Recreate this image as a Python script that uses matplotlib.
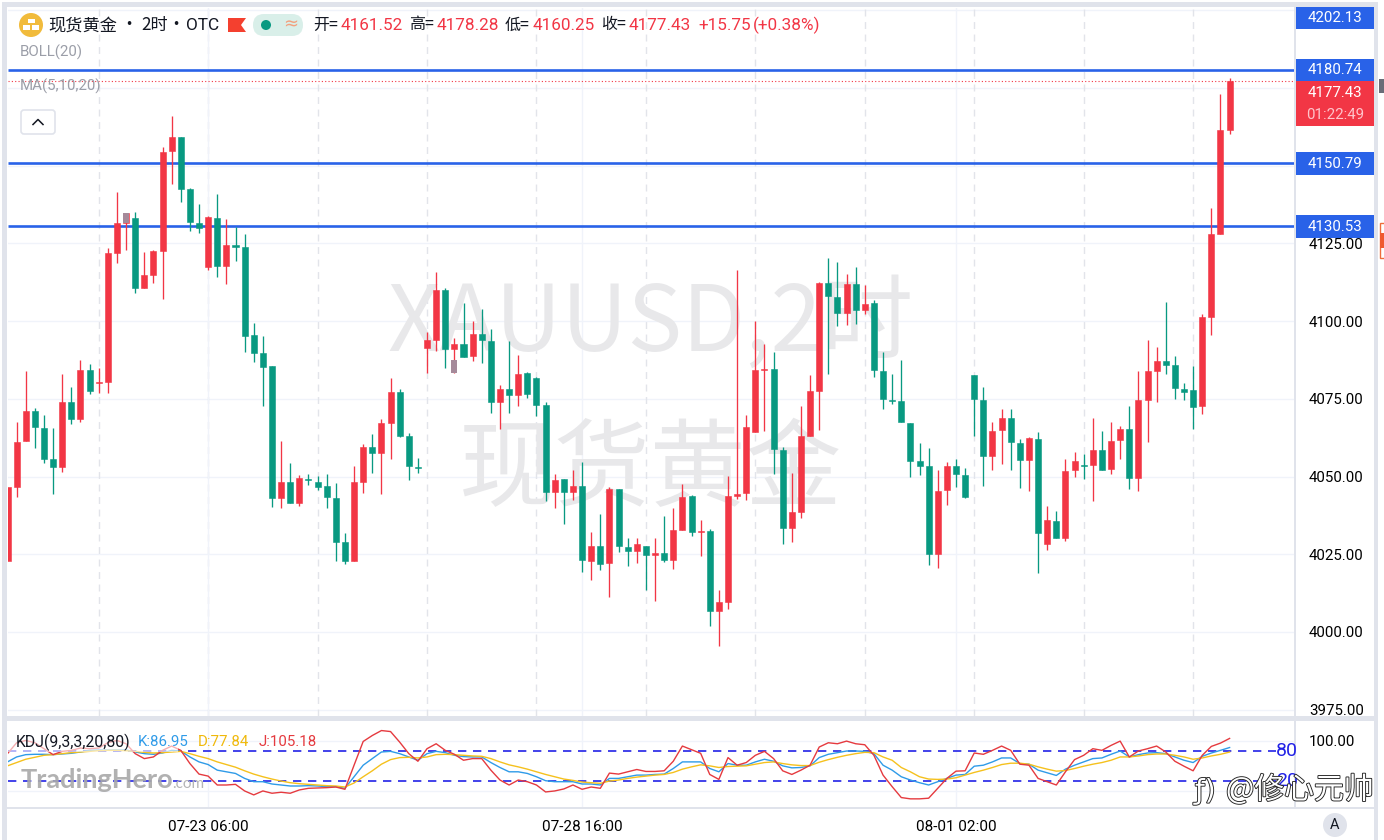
import numpy as np
import matplotlib
matplotlib.use('Agg')
import matplotlib.pyplot as plt
from matplotlib.patches import Rectangle, Circle, Polygon, FancyBboxPatch
import matplotlib.patheffects as pe

plt.rcParams['font.family'] = ['Noto Sans CJK SC', 'DejaVu Sans']

# candles
opens = [4022.9, 4046.7, 4061.6, 4071.1, 4065.7, 4055.8, 4053.0, 4073.9, 4068.6, 4084.3,
         4080.0, 4080.5, 4121.8, 4131.7, 4133.3, 4110.6, 4114.9, 4122.7, 4154.9, 4159.4,
         4142.4, 4131.6, 4117.5, 4133.3, 4117.9, 4124.5, 4124.0, 4095.6, 4089.7, 4085.6,
         4043.0, 4048.4, 4041.5, 4049.3, 4048.2, 4047.0, 4043.2, 4028.9, 4022.8, 4048.2,
         4059.5, 4057.7, 4067.3, 4077.1, 4063.2, 4053.1, 4091.5, 4094.0, 4110.0, 4091.0,
         4092.7, 4088.8, 4095.9, 4093.7, 4073.9, 4078.1, 4076.3, 4083.2, 4081.6, 4073.0,
         4044.9, 4049.1, 4045.1, 4047.0, 4022.9, 4027.7, 4022.1, 4045.9, 4027.4, 4026.2,
         4027.7, 4024.9, 4025.5, 4023.3, 4032.7, 4043.8, 4032.2, 4032.6, 4006.9, 4009.6,
         4043.9, 4044.8, 4064.3, 4084.2, 4084.5, 4058.6, 4033.5, 4038.7, 4063.2, 4077.6,
         4112.2, 4107.9, 4102.7, 4112.0, 4103.6, 4105.7, 4084.1, 4074.8, 4074.3, 4067.4,
         4054.9, 4053.4, 4025.1, 4045.6, 4053.4, 4050.5, 4082.6, 4074.7, 4056.6, 4064.9,
         4068.7, 4060.8, 4055.3, 4062.2, 4028.4, 4035.6, 4030.4, 4052.0, 4053.7, 4053.6,
         4058.6, 4052.4, 4061.8, 4065.4, 4049.6, 4074.8, 4084.1, 4087.1, 4085.8, 4078.3,
         4078.0, 4072.7, 4101.3, 4128.1, 4161.5]
highs = [4046.7, 4067.7, 4084.0, 4072.2, 4069.8, 4065.5, 4083.0, 4078.9, 4087.5, 4086.1,
         4084.8, 4123.5, 4141.5, 4134.7, 4135.2, 4122.2, 4122.9, 4156.0, 4166.0, 4159.4,
         4142.8, 4137.7, 4133.8, 4140.8, 4132.9, 4130.4, 4128.1, 4099.3, 4095.2, 4085.6,
         4061.4, 4054.3, 4050.5, 4050.8, 4050.2, 4050.7, 4047.8, 4031.8, 4053.4, 4060.4,
         4063.7, 4068.4, 4081.8, 4078.1, 4064.1, 4056.0, 4096.6, 4115.9, 4110.6, 4094.5,
         4105.8, 4100.2, 4103.8, 4097.4, 4079.5, 4093.7, 4089.1, 4083.8, 4081.9, 4073.9,
         4050.7, 4049.1, 4052.1, 4054.8, 4032.1, 4037.9, 4046.7, 4045.9, 4030.1, 4030.1,
         4027.7, 4030.1, 4037.4, 4039.8, 4047.6, 4044.1, 4036.0, 4033.0, 4013.5, 4050.2,
         4116.5, 4069.8, 4100.2, 4092.7, 4090.0, 4059.6, 4051.1, 4072.8, 4082.7, 4112.7,
         4120.3, 4119.1, 4115.2, 4117.3, 4111.6, 4106.8, 4090.1, 4083.0, 4087.4, 4067.4,
         4060.8, 4059.1, 4052.2, 4054.6, 4055.5, 4052.8, 4082.6, 4078.8, 4067.7, 4071.8,
         4071.8, 4062.2, 4062.7, 4064.4, 4040.6, 4038.9, 4055.5, 4057.9, 4057.2, 4069.0,
         4064.8, 4067.7, 4066.4, 4072.7, 4084.0, 4094.0, 4091.7, 4106.1, 4088.8, 4080.1,
         4085.6, 4102.3, 4136.4, 4173.0, 4178.28]
lows = [4022.9, 4043.5, 4061.6, 4059.2, 4054.3, 4044.3, 4051.6, 4066.9, 4067.6, 4076.5,
        4076.8, 4076.8, 4118.6, 4122.9, 4109.2, 4110.6, 4112.4, 4107.1, 4144.1, 4138.5,
        4129.0, 4128.3, 4116.5, 4114.1, 4112.0, 4119.5, 4090.2, 4086.8, 4072.8, 4040.1,
        4039.9, 4041.5, 4040.5, 4047.3, 4045.7, 4040.0, 4022.8, 4021.8, 4022.8, 4044.8,
        4051.1, 4044.4, 4055.7, 4062.6, 4048.9, 4051.3, 4083.4, 4090.5, 4085.0, 4083.4,
        4088.6, 4087.2, 4086.5, 4070.4, 4065.3, 4070.6, 4072.8, 4075.3, 4069.6, 4042.1,
        4040.0, 4034.7, 4042.5, 4019.4, 4016.7, 4019.9, 4011.2, 4025.6, 4021.3, 4022.3,
        4013.5, 4010.0, 4022.6, 4020.2, 4032.7, 4030.9, 4024.5, 4002.0, 3995.6, 4007.4,
        4042.7, 4042.5, 4064.3, 4064.8, 4050.7, 4028.2, 4029.1, 4036.6, 4063.2, 4065.0,
        4083.0, 4098.6, 4098.8, 4099.0, 4102.2, 4081.9, 4071.8, 4073.2, 4067.6, 4050.0,
        4050.5, 4021.7, 4020.6, 4040.9, 4046.7, 4043.1, 4062.9, 4047.0, 4052.0, 4053.9,
        4052.2, 4046.3, 4045.4, 4019.0, 4026.5, 4030.2, 4029.4, 4050.0, 4049.1, 4042.2,
        4052.0, 4050.9, 4055.5, 4045.9, 4045.4, 4061.1, 4074.1, 4083.0, 4075.0, 4074.6,
        4065.3, 4070.2, 4095.4, 4128.1, 4160.25]
closes = [4046.7, 4061.2, 4071.1, 4065.9, 4055.8, 4053.0, 4073.9, 4068.4, 4084.3, 4077.6,
          4080.5, 4121.8, 4131.7, 4134.7, 4110.6, 4114.9, 4122.6, 4154.5, 4159.3, 4142.4,
          4131.8, 4129.9, 4133.4, 4117.9, 4124.5, 4124.0, 4095.3, 4089.7, 4085.4, 4043.0,
          4048.4, 4041.5, 4049.5, 4048.9, 4046.7, 4043.3, 4029.1, 4022.8, 4048.2, 4059.5,
          4057.7, 4067.3, 4077.1, 4063.2, 4053.5, 4052.8, 4094.0, 4110.0, 4091.0, 4092.6,
          4088.6, 4095.9, 4093.9, 4074.0, 4078.1, 4076.3, 4083.0, 4076.5, 4073.1, 4044.9,
          4049.0, 4044.9, 4047.0, 4023.2, 4027.7, 4021.8, 4045.9, 4027.7, 4026.2, 4028.3,
          4024.8, 4025.4, 4023.2, 4032.7, 4043.4, 4032.3, 4032.5, 4006.9, 4009.6, 4043.8,
          4044.4, 4065.9, 4084.4, 4084.5, 4058.8, 4033.6, 4038.5, 4063.1, 4077.5, 4112.2,
          4108.1, 4102.7, 4111.9, 4103.6, 4105.5, 4084.3, 4075.0, 4074.3, 4067.6, 4055.0,
          4053.5, 4025.2, 4045.4, 4053.3, 4050.9, 4043.3, 4074.9, 4056.6, 4064.7, 4068.7,
          4061.1, 4055.2, 4062.3, 4032.0, 4035.9, 4030.2, 4051.9, 4055.1, 4053.3, 4058.5,
          4052.2, 4061.6, 4065.3, 4049.6, 4074.8, 4084.0, 4087.1, 4086.0, 4078.6, 4077.1,
          4072.5, 4101.3, 4128.1, 4161.6, 4177.43]

# two washed out candle bodies in the reference
ghost_index = [13, 49]
ghost_top = [4134.7, 4087.5]
ghost_bottom = [4131.7, 4083.4]

kdj_k = [58.2, 68.1, 72.7, 73.4, 73.4, 72.7, 74, 75.4, 78, 81.3, 82, 82, 82, 82, 78, 74.7, 73.4, 76, 81.3, 80,
         68.1, 58.2, 52.9, 41.7, 38.4, 35.1, 25.2, 18.6, 18.6, 14, 12, 10, 10, 10.7, 10, 8.7, 8.7, 5.4,
         28.5, 51.6, 64.8, 78, 79.3, 74.7, 68.1, 61.5, 74.7, 79.3,
         76.7, 71.4, 68.8, 68.1, 68.1, 56.9, 47, 38.4, 38.4, 35.1, 28.5, 20.6, 18.6, 18.6, 18.6, 14, 14, 12,
         25.2, 25.2, 28.5, 31.8, 31.8, 33.1, 33.8, 45, 58.2, 58.2, 58.2, 45, 38.4, 54.9, 51.6, 51.6, 58.2, 63.5,
         59.5, 50.3, 46.3, 47, 50.3, 66.8, 73.4, 76.7, 80, 80, 79.3, 74.7, 51.6,
         41.7, 28.5, 21.9, 16.6, 12, 18.6, 25.2, 31.8, 33.1, 49.6, 51.6, 58.2, 66.1, 66.1, 54.9, 53.6, 41.7, 36.4,
         31.1, 43.7, 51.6, 58.2, 64.8, 66.1, 73.4, 80, 68.1, 72.7, 76, 76.7, 74.7, 68.1, 61.5, 56.9, 69.4, 76,
         81.3, 86.95]
kdj_d = [50.3, 56.9, 63.5, 67.4, 71.4, 72.7, 74.7, 76.7, 78, 79.3, 80.6, 81.3, 81.3, 80.6, 79.3, 77.3, 76, 76.7, 78, 79.3,
         74.7, 69.4, 64.8, 58.2, 52.9, 47.6, 40.4, 33.8, 28.5, 23.9, 19.9, 16.6, 14.6, 13.3, 12, 10.7, 10, 8,
         16, 28.5, 40.4, 53.6, 62.8, 66.8, 67.4, 66.1, 68.1, 72.7,
         73.4, 72.7, 71.4, 70.1, 69.4, 64.8, 58.2, 52.3, 48.3, 43.7, 38.4, 33.1, 28.5, 23.9, 21.2, 17.9, 16.6, 15.3,
         19.9, 21.9, 25.2, 27.8, 29.8, 31.8, 33.1, 37.1, 43.7, 48.3, 52.3, 50.3, 47, 49, 49.6, 50.3, 53.6, 56.9,
         58.2, 54.9, 52.3, 50.9, 50.9, 57.5, 62.8, 67.4, 71.4, 74.7, 77.3, 76.7, 68.1,
         61.5, 47, 38.4, 28.5, 23.9, 23.2, 23.9, 26.5, 31.8, 37.1, 41.7, 47, 52.9, 55.6, 55.6, 53.6, 48.3, 43.7,
         39.7, 41, 45, 49.6, 53.6, 56.9, 61.5, 68.1, 68.1, 70.1, 72.7, 74, 74, 71.4, 68.1, 63.5, 66.1, 70.1,
         73.4, 77.84]
kdj_j = [74.7, 96.5, 101.1, 96.5, 84.6, 72.7, 79.3, 81.3, 85.9, 84.6, 85.9, 96.5, 101.1, 94.5, 74.7, 64.8, 68.1, 81.3, 89.9, 81.3,
         54.9, 33.8, 29.8, 12, 12, 13.3, 0.1, -7.8, 0.1, -4.5, -2.5, -4.5, 2.1, 5.4, 6.1, 6.7, 8, 3.4,
         51.6, 99.1, 111, 120.9, 118.9, 97.8, 74.7, 59.5, 84.6, 94.5,
         81.3, 73.4, 61.5, 64.8, 64.8, 41.7, 21.9, 12, 21.9, 18.6, 12, -1.9, 0.1, 4.1, 12, 3.4, 8, 5.4,
         35.8, 33.8, 38.4, 43, 39.1, 39.1, 40.4, 59.5, 89.9, 82.6, 75.4, 33.1, 23.2, 66.8, 51.6, 56.9, 71.4, 79.3,
         64.8, 40.4, 33.1, 41.7, 51.6, 87.9, 96.5, 94.5, 99.8, 94.5, 92.5, 71.4, 31.8,
         8.7, -13.1, -15.7, -15.7, -14.4, 5.4, 25.2, 39.7, 40.4, 76, 73.4, 81.3, 89.9, 81.3, 53.6, 51.6, 25.2, 18.6,
         12, 38.4, 62.8, 71.4, 84.6, 81.3, 91.2, 99.8, 68.1, 80, 84.6, 89.9, 78, 59.5, 49.6, 40.4, 71.4, 89.2,
         95.8, 105.18]

hlines = [4180.74, 4150.79, 4130.53]
last_price = 4177.43
grid_prices = [3975, 4000, 4025, 4050, 4075, 4100, 4125, 4150, 4175, 4200]
hidden_prices = [4150, 4175, 4200]  # covered by the coloured price boxes
kdj_levels = [80, 20]
time_index = [22, 63, 104]
time_labels = ['07-23 06:00', '07-28 16:00', '08-01 02:00']
dash_index = [10, 22, 34, 46, 58, 70, 82, 94, 106, 118, 130]

RED = '#f23645'
GREEN = '#089981'
BLUE = '#2962e8'
FRAME = '#e0e3eb'
NUM = ['Roboto', 'Noto Sans CJK SC']
cjk = ['Noto Sans CJK SC', 'DejaVu Sans']


def px_axes(left, top, right, bottom, **kw):
    # axes position given in picture pixels
    return fig.add_axes([left / 1384, 1 - bottom / 840, (right - left) / 1384, (bottom - top) / 840], **kw)


fig = plt.figure(figsize=(13.84, 8.4), dpi=100, facecolor='white')

# main pane
ax = px_axes(8, 8, 1295, 716)
ax.set_xlim(0.055, 141.17)
ax.set_ylim(3972.97, 4200.77)
x = np.arange(len(opens))
o, h, l, c = map(np.array, (opens, highs, lows, closes))
colors = [RED if c[i] >= o[i] else GREEN for i in x]

ax.set_yticks(grid_prices)
ax.set_yticklabels(['' if p in hidden_prices else '%.2f' % p for p in grid_prices], family=NUM, fontsize=10.8)
ax.yaxis.tick_right()
ax.tick_params(axis='y', length=0, pad=10)
ax.set_xticks([])
ax.grid(True, axis='y', color='#f0f3fa', lw=1)
ax.set_axisbelow(True)
for s in ax.spines.values():
    s.set_visible(False)
for i in dash_index:
    ax.axvline(i, color='#e2e4ea', lw=1, dashes=(5, 4), zorder=1)
for i in time_index:
    ax.axvline(i, color='#f0f3fa', lw=1, zorder=1)

ax.text(0.4996, 0.552, 'XAUUSD,2时', transform=ax.transAxes, ha='center', va='center', fontsize=66,
        color='#e8e8ea', zorder=1.5, family=cjk)
ax.text(0.4996, 0.3455, '现货黄金', transform=ax.transAxes, ha='center', va='center', fontsize=69,
        color='#e8e8ea', zorder=1.5)

ax.hlines(hlines, 0, 1, transform=ax.get_yaxis_transform(), color=BLUE, lw=1.9, zorder=2)
ax.axhline(last_price, color=RED, lw=0.8, ls=(0, (1, 2)), zorder=2)

ax.vlines(x, l, h, colors=colors, lw=0.95, zorder=3)
ax.bar(x, np.abs(c - o), bottom=np.minimum(o, c), width=0.66, color=colors, edgecolor=colors, lw=0.4, zorder=4)
ax.bar(ghost_index, np.array(ghost_top) - np.array(ghost_bottom), bottom=ghost_bottom, width=0.66,
       color='#a58a9a', lw=0, zorder=5)

# KDJ pane
ax2 = px_axes(8, 721, 1295, 807)
ax2.set_xlim(0.055, 141.17)
ax2.set_ylim(-32, 140)
for s in ax2.spines.values():
    s.set_visible(False)
ax2.set_yticks([0, 100])
ax2.set_yticklabels(['', '100.00'], family=NUM, fontsize=10.8)
ax2.yaxis.tick_right()
ax2.tick_params(axis='y', length=0, pad=10)
ax2.grid(True, axis='y', color='#f0f3fa', lw=1)
ax2.set_axisbelow(True)
ax2.set_xticks(time_index)
ax2.set_xticklabels(time_labels, family=NUM, fontsize=11)
ax2.tick_params(axis='x', length=0, pad=9.5)
ax2.grid(True, axis='x', color='#f0f3fa', lw=1)

kx = np.arange(len(kdj_k))
ax2.plot(kx, kdj_k, color='#2f9be8', lw=1.0, zorder=3)
ax2.plot(kx, kdj_d, color='#f5c11d', lw=1.0, zorder=3)
ax2.plot(kx, kdj_j, color='#e53a3f', lw=1.0, zorder=4)
ax2.hlines(kdj_levels, 0, 0.985, transform=ax2.get_yaxis_transform(), color='#2222e6', lw=1.2,
           linestyles=(0, (5, 4)), zorder=2)

# everything on top, placed in picture pixels
top = fig.add_axes([0, 0, 1, 1], facecolor='none', zorder=10)
top.set_xlim(0, 1384)
top.set_ylim(840, 0)
top.axis('off')


def rect(x0, y0, x1, y1, color, **kw):
    top.add_patch(Rectangle((x0, y0), x1 - x0, y1 - y0, facecolor=color, edgecolor='none', **kw))


def txt(px, py, s, size=10.8, color='#131722', ha='left', family=NUM, **kw):
    return top.text(px, py, s, fontsize=size, color=color, ha=ha, va='center', family=family, **kw)


# frame strips
rect(2, 2, 1378, 7, FRAME)
rect(2, 2, 7, 840, FRAME)
rect(1374, 2, 1378, 840, FRAME)
rect(1294, 7, 1296, 809, FRAME)
rect(7, 716, 1374, 720.5, FRAME)
rect(7, 807, 1374, 809, FRAME)

# fade behind the KDJ legend
rect(8, 733, 178, 752, 'white', alpha=0.6, zorder=1)

# price labels
boxes = [(7, 29, '4202.13', BLUE), (59, 81, '4180.74', BLUE), (152, 175, '4150.79', BLUE), (215, 238, '4130.53', BLUE)]
rect(1296, 81, 1374, 126, RED)
for y0, y1, s, col in boxes:
    rect(1296, y0, 1374, y1, col)
    txt(1335, (y0 + y1) / 2 + 0.5, s, color='white', ha='center')
txt(1335, 93, '4177.43', color='white', ha='center')
txt(1335, 115, '01:22:49', color='#ffc4cb', ha='center')

# bits of the next panel at the right edge
rect(1379, 79, 1384, 93, '#6a6d78')
top.add_patch(Rectangle((1379.5, 222.5), 6, 35, facecolor='white', edgecolor='#ef6c3a', lw=1))
rect(1380, 233, 1384, 248, '#ef5a2f')

# header
top.add_patch(Circle((31, 25), 12, facecolor='#f1bb3c', edgecolor='none'))
rect(27.5, 18.5, 34.5, 23, 'white')
rect(23, 25, 30, 30, 'white')
rect(32, 25, 39, 30, 'white')
txt(48, 25, '现货黄金', size=12.4, family=cjk)
txt(129, 25, '•', size=12.4, family=cjk, ha='center')
txt(141, 25, '2时', size=12.4, family=cjk)
txt(176, 25, '•', size=12.4, family=cjk, ha='center')
txt(186, 25, 'OTC', size=12.4, family=NUM)
top.add_patch(Polygon([(228, 18), (246, 18), (241, 25), (246, 32), (228, 32)], facecolor='#f4402f', edgecolor='none'))
top.add_patch(FancyBboxPatch((253, 14), 50, 22, boxstyle='round,pad=0,rounding_size=11',
                             facecolor='#d9efe9', edgecolor='none'))
top.add_patch(Circle((266, 25), 5, facecolor=GREEN, edgecolor='none'))
txt(291, 24.5, '≈', size=13, color='#f2a17e', ha='center', family=['DejaVu Sans'])
for px, head, val in [(313, '开=', '4161.52'), (409, '高=', '4178.28'), (505, '低=', '4160.25'), (601, '收=', '4177.43')]:
    txt(px, 25, head, size=11.5, family=cjk)
    txt(px + 28, 25, val, size=12.3, color=RED)
txt(698, 25, '+15.75', size=12.3, color=RED)
txt(753, 25, '(+0.38%)', size=12.3, color=RED)

txt(20, 52, 'BOLL(20)', color='#9b9ea8')
txt(20, 86, 'MA(5,10,20)', color='#9b9ea8')
top.add_patch(FancyBboxPatch((21, 110), 34, 24, boxstyle='round,pad=0,rounding_size=3', facecolor='white',
                             edgecolor='#e0e3eb', lw=1.2))
top.plot([33, 38, 43], [124.5, 119.5, 124.5], color='#131722', lw=1.1)

# KDJ legend
txt(16, 742, 'KDJ(9,3,3,20,80)', size=11.4)
txt(138, 742, 'K:86.95', color='#2f9be8')
txt(198, 742, 'D:77.84', color='#f0b90b')
txt(259, 742, 'J:105.18', color='#e53a3f')
txt(1287, 751, '80', size=14, color='#2222e6', ha='center')
txt(1287, 781, '20', size=14, color='#2222e6', ha='center')

# watermarks
txt(21, 780, 'TradingHero', size=19.5, color='#a9a9a9', family=['Lato', 'DejaVu Sans'], fontweight='bold', alpha=0.9)
txt(172, 784, '.com', size=11, color='#b5b5b5', family=['Lato', 'DejaVu Sans'])
outline = [pe.withStroke(linewidth=1.3, foreground='#222222')]
txt(1195, 791, 'ƒ)', size=20, color='white', family=['DejaVu Sans'], path_effects=outline)
txt(1226, 790, '@修心元帅', size=21.5, color='white', family=cjk, path_effects=outline)

# autoscale badge
top.add_patch(Circle((1335, 825), 12, facecolor='#e0e3eb', edgecolor='none'))
txt(1335, 825, 'A', size=10.5, ha='center')

fig.savefig('out.png', dpi=100)
